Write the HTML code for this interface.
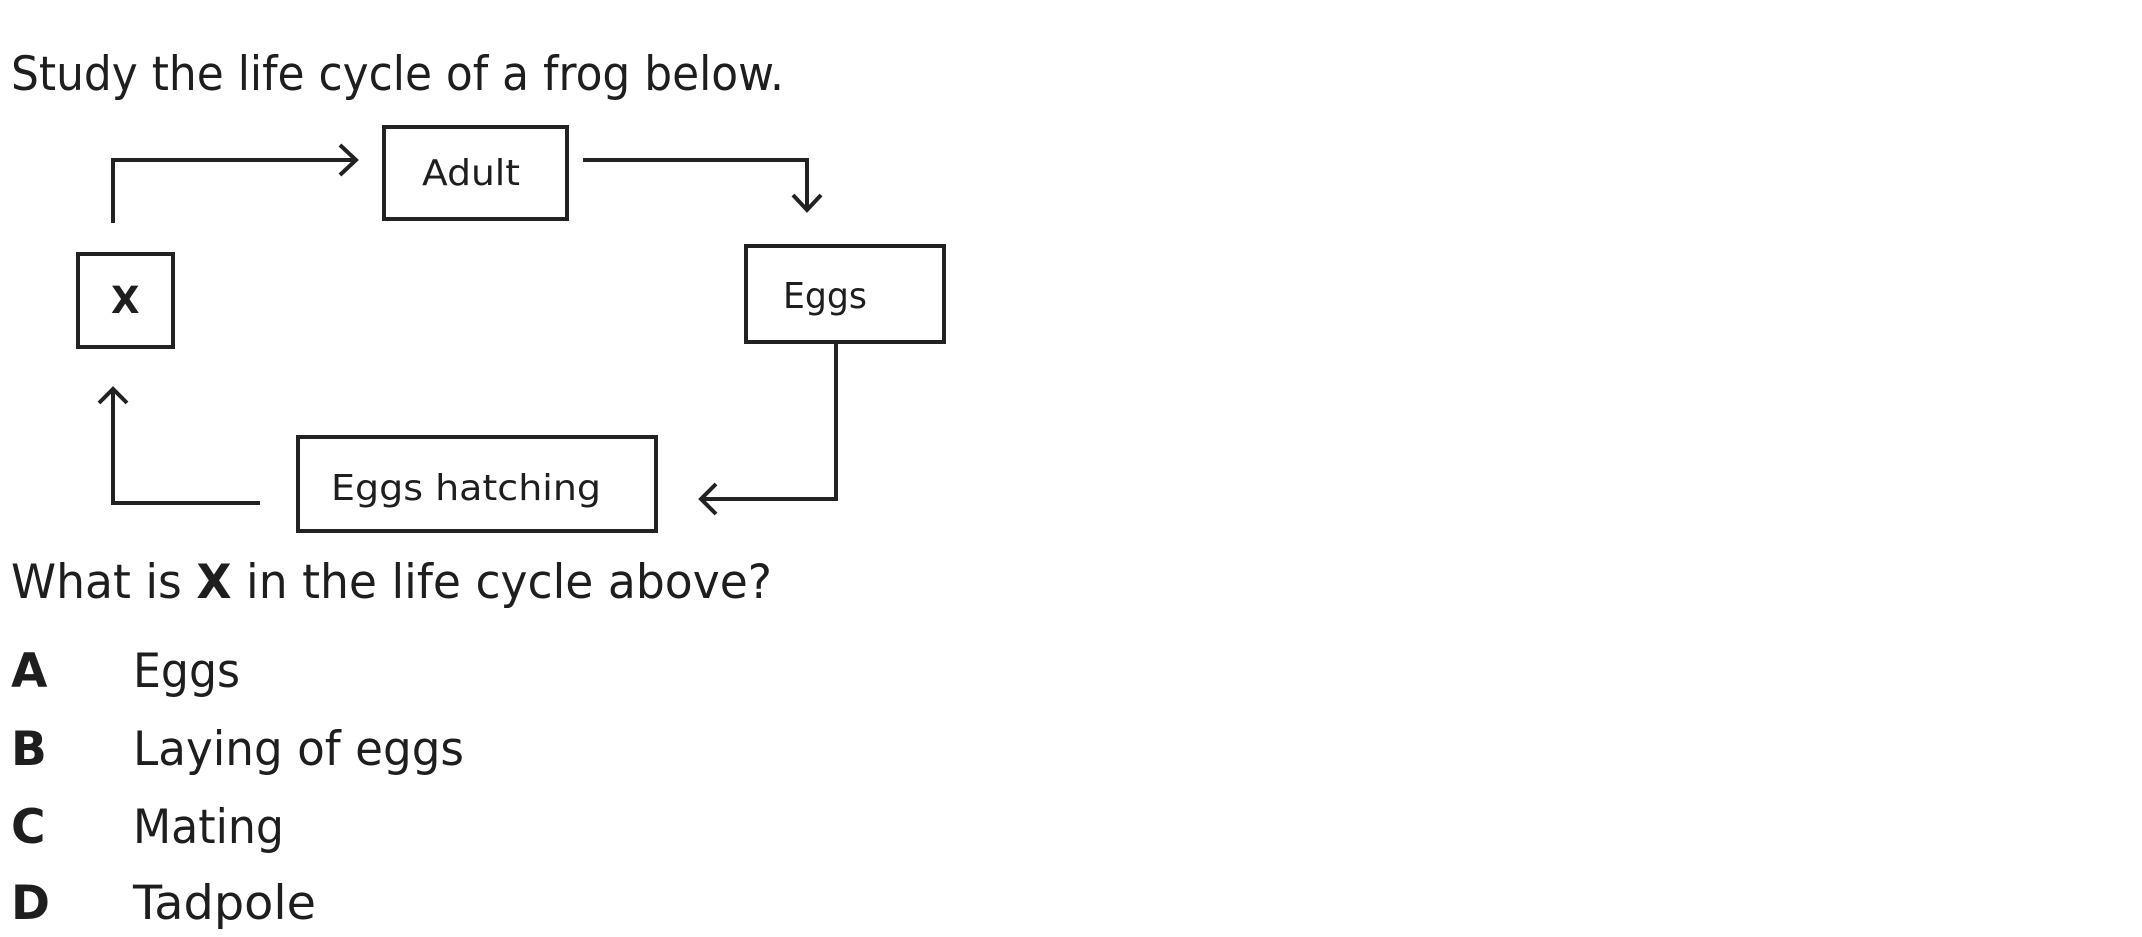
<!DOCTYPE html>
<html><head><meta charset="utf-8"><style>
html,body{margin:0;padding:0;background:#fff;width:2142px;height:937px;overflow:hidden}
svg{display:block}
text{font-family:"DejaVu Sans","Liberation Sans",sans-serif;fill:#1e1e1e}
</style></head><body>
<svg width="2142" height="937" viewBox="0 0 2142 937" xmlns="http://www.w3.org/2000/svg">
<g fill="none" stroke="#222" stroke-width="4" stroke-linejoin="miter">
<rect x="384" y="127" width="183" height="92"/>
<rect x="746" y="246" width="198" height="96"/>
<rect x="78" y="254" width="95" height="93"/>
<rect x="298" y="437" width="358" height="94"/>
<polyline points="113,223 113,160 356,160"/>
<polyline points="340,145 356,160 340,175"/>
<polyline points="583,160 807,160 807,210"/>
<polyline points="793,195 807,210 821,195"/>
<polyline points="836,342 836,499 701,499"/>
<polyline points="716,484 701,499 716,514"/>
<polyline points="260,503 113,503 113,389"/>
<polyline points="99,403 113,389 127,403"/>
</g>
<text x="11" y="90" font-size="47" textLength="773" lengthAdjust="spacingAndGlyphs">Study the life cycle of a frog below.</text>
<text x="422" y="185" font-size="36" textLength="98" lengthAdjust="spacingAndGlyphs">Adult</text>
<text x="783" y="308" font-size="36" textLength="84" lengthAdjust="spacingAndGlyphs">Eggs</text>
<text x="111" y="313" font-size="37" font-weight="bold">X</text>
<text x="331" y="500" font-size="36" textLength="270" lengthAdjust="spacingAndGlyphs">Eggs hatching</text>
<text x="11" y="598" font-size="47" textLength="761" lengthAdjust="spacingAndGlyphs">What is <tspan font-weight="bold">X</tspan> in the life cycle above?</text>
<g font-size="47">
<text x="11" y="687" font-weight="bold">A</text>
<text x="133" y="687" textLength="107" lengthAdjust="spacingAndGlyphs">Eggs</text>
<text x="11" y="765" font-weight="bold">B</text>
<text x="133" y="765" textLength="331" lengthAdjust="spacingAndGlyphs">Laying of eggs</text>
<text x="11" y="843" font-weight="bold">C</text>
<text x="133" y="843" textLength="151" lengthAdjust="spacingAndGlyphs">Mating</text>
<text x="11" y="919" font-weight="bold">D</text>
<text x="133" y="919" textLength="183" lengthAdjust="spacingAndGlyphs">Tadpole</text>
</g>
</svg>
</body></html>
